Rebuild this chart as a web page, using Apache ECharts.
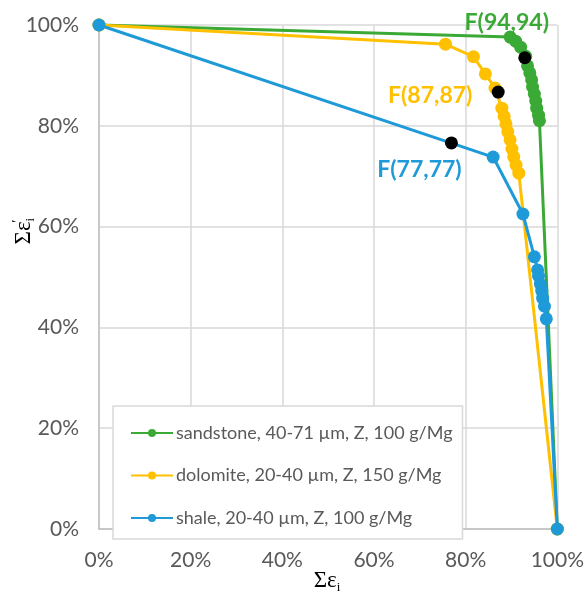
<!DOCTYPE html>
<html><head><meta charset="utf-8">
<script src="https://cdn.jsdelivr.net/npm/echarts@6/dist/echarts.min.js"></script>
<style>html,body{margin:0;padding:0;background:#fff}#c{width:587px;height:593px}</style>
</head><body><div id="c"></div>
<script>
const seriesNames = ['sandstone, 40-71 µm, Z, 100 g/Mg', 'dolomite, 20-40 µm, Z, 150 g/Mg', 'shale, 20-40 µm, Z, 100 g/Mg'];
const sandstoneX = [0, 89.7, 90.9, 92.0, 93.1, 93.5, 94.0, 94.4, 94.6, 95.0, 95.3, 95.5, 95.9, 96.1, 100];
const sandstoneY = [100, 97.6, 96.8, 95.6, 93.8, 91.9, 90.5, 89.1, 87.7, 86.3, 84.9, 83.5, 82.1, 81.0, 0];
const dolomiteX = [0, 75.6, 81.7, 84.3, 86.4, 87.9, 88.4, 88.8, 89.2, 89.7, 90.1, 90.5, 91.0, 91.6, 100];
const dolomiteY = [100, 96.2, 93.7, 90.3, 87.5, 83.5, 81.9, 80.4, 78.8, 77.2, 75.4, 73.8, 72.2, 70.6, 0];
const shaleX = [0, 86.0, 92.5, 95.0, 95.7, 95.9, 96.3, 96.6, 96.8, 97.2, 97.6, 100];
const shaleY = [100, 73.8, 62.5, 54.0, 51.4, 50.2, 48.6, 47.2, 45.8, 44.2, 41.7, 0];
const fX = [92.9, 87.1, 76.9];
const fY = [93.5, 86.7, 76.6];
const fLabels = ['F(94,94)', 'F(87,87)', 'F(77,77)'];

const colors = ['#3aa935', '#ffc000', '#1f9ad8'];
const labelOffsets = [[-18, -35], [-68, 4], [-32, 27]];
const zip = (xs, ys) => xs.map((x, i) => [x, ys[i]]);
const txt = '#595959';
const font = 'Lato, "Open Sans", sans-serif';
const serif = '"Liberation Serif", "DejaVu Serif", serif';

const chart = echarts.init(document.getElementById('c'), null, {renderer: 'canvas'});
const lineSeries = [[sandstoneX, sandstoneY], [dolomiteX, dolomiteY], [shaleX, shaleY]].map((d, i) => ({
  name: seriesNames[i], type: 'line', data: zip(d[0], d[1]),
  symbol: 'circle', symbolSize: 13, clip: false,
  itemStyle: {color: colors[i], opacity: 1}, lineStyle: {color: colors[i], width: 3},
  z: 2 + i, animation: false
}));
const fSeries = {
  name: 'F', type: 'scatter', z: 10, symbolSize: 13, clip: false,
  itemStyle: {color: '#000', opacity: 1},
  data: fX.map((x, i) => ({
    value: [x, fY[i]],
    label: {show: true, formatter: fLabels[i], position: 'inside', offset: labelOffsets[i],
      color: colors[i], fontSize: 23, fontWeight: 'bold', fontFamily: font}
  })),
  animation: false
};
const axisCommon = {
  type: 'value', min: 0, max: 100, interval: 20,
  axisLabel: {formatter: '{value}%', color: txt, fontSize: 21, fontFamily: font},
  axisLine: {show: true, lineStyle: {color: '#bfbfbf', width: 1.5}},
  axisTick: {show: false},
  splitLine: {show: true, lineStyle: {color: '#d9d9d9', width: 1.5}}
};
chart.setOption({
  backgroundColor: '#fff',
  animation: false,
  grid: {left: 99, right: 24, top: 25, bottom: 64, containLabel: false},
  xAxis: Object.assign({}, axisCommon, {axisLabel: Object.assign({}, axisCommon.axisLabel, {margin: 21})}),
  yAxis: Object.assign({}, axisCommon, {axisLabel: Object.assign({}, axisCommon.axisLabel, {margin: 20})}),
  legend: {
    data: seriesNames, orient: 'vertical', left: 113, top: 406,
    backgroundColor: '#fff', borderColor: '#d9d9d9', borderWidth: 1.5,
    padding: [18, 10, 12, 17], itemWidth: 42, itemHeight: 10, itemGap: 24.5,
    textStyle: {color: txt, fontSize: 18, fontFamily: font, padding: [0, 0, 0, -2]}
  },
  graphic: [
    {type: 'text', x: 327, y: 581, z: 20,
      style: {text: '{a|Σε}{s|i}', align: 'center', verticalAlign: 'middle',
        rich: {a: {fontSize: 23, fontFamily: serif, color: '#000', lineHeight: 26},
               s: {fontSize: 13, fontFamily: serif, color: '#000', lineHeight: 12, verticalAlign: 'bottom'}}}},
    {type: 'text', x: 24, y: 232, rotation: Math.PI / 2, z: 20,
      style: {text: '{a|Σε}{s|i}{p|′}', align: 'center', verticalAlign: 'middle',
        rich: {a: {fontSize: 23, fontFamily: serif, color: '#000', lineHeight: 26},
               s: {fontSize: 13, fontFamily: serif, color: '#000', lineHeight: 12, verticalAlign: 'bottom'},
               p: {fontSize: 15, fontFamily: serif, color: '#000', lineHeight: 16, verticalAlign: 'top', padding: [0, 0, 0, -5]}}}}
  ],
  series: lineSeries.concat([fSeries])
});
</script></body></html>
